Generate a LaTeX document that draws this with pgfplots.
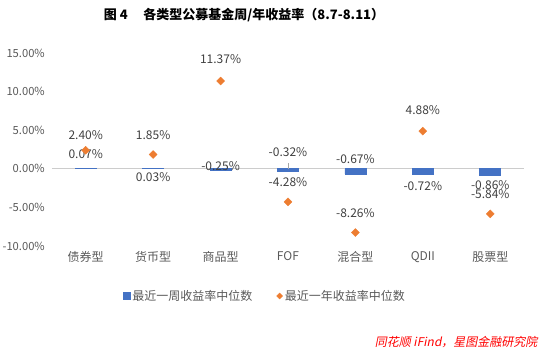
\documentclass[border=0pt]{standalone}
\usepackage{fontspec}
\setmainfont{Noto Sans CJK SC}
\newfontfamily\srcfont[FakeSlant=0.2]{Noto Sans CJK SC}
\usepackage{pgfplots}
\pgfplotsset{compat=1.18}
\definecolor{barblue}{HTML}{4472C4}
\definecolor{dorange}{HTML}{ED7D31}
\definecolor{ticktext}{HTML}{595959}
\definecolor{lbltext}{HTML}{404040}
\begin{document}
\begin{tikzpicture}[x=1pt,y=1pt]
\useasboundingbox (0,0) rectangle (550,351);
\clip (0,0) rectangle (550,351);
\begin{axis}[
  at={(52pt,105pt)}, anchor=south west,
  scale only axis, width=472pt, height=193pt,
  xmin=-0.5, xmax=6.5, ymin=-10, ymax=15,
  xtick={0,1,2,3,4,5,6},
  xticklabels={债券型,货币型,商品型,FOF,混合型,QDII,股票型},
  ytick={-10,-5,0,5,10,15},
  yticklabels={-10.00\%,-5.00\%,0.00\%,5.00\%,10.00\%,15.00\%},
  axis line style={draw=none},
  major tick style={draw=none},
  tick label style={font=\fontsize{12}{14}\selectfont, text=ticktext},
  xticklabel style={yshift=-2pt},
  yticklabel style={font=\fontsize{11.2}{13}\selectfont, anchor=east, inner sep=0pt, xshift=-7pt},
  extra y ticks={0}, extra y tick labels={},
  extra y tick style={grid=major, major grid style={draw=black!20, line width=0.8pt}},
  clip=false,
  legend style={at={(0.451,-0.259)}, anchor=center, draw=none, fill=none,
    legend columns=2, font=\fontsize{12}{14}\selectfont, text=ticktext,
    /tikz/every odd column/.append style={column sep=0pt},
    /tikz/every even column/.append style={column sep=22pt},
    legend cell align=left},
]
\addplot[ybar, bar width=21pt, fill=barblue, draw=barblue, line width=0.6pt,
  legend image code/.code={\fill[barblue] (2pt,-3.5pt) rectangle (9pt,3.5pt);}]
  coordinates {(0,0.07) (1,0.03) (2,-0.25) (3,-0.32) (4,-0.67) (5,-0.72) (6,-0.86)};
\addlegendentry{最近一周收益率中位数}
\addplot[only marks, mark=square*, mark options={rotate=45}, mark size=2.8pt, color=dorange,
  legend image code/.code={\fill[dorange] (6pt,-3pt) -- (9pt,0pt) -- (6pt,3pt) -- (3pt,0pt) -- cycle;}]
  coordinates {(0,2.40) (1,1.85) (2,11.37) (3,-4.28) (4,-8.26) (5,4.88) (6,-5.84)};
\addlegendentry{最近一年收益率中位数}
\draw[black!35] (axis cs:3,0) -- (axis cs:3,0.8);
\begin{scope}[every node/.style={font=\fontsize{12}{14}\selectfont, text=lbltext, inner sep=0pt}]
\node at (axis cs:0,4.4) {2.40\%};
\node at (axis cs:1,4.4) {1.85\%};
\node at (axis cs:2,14.25) {11.37\%};
\node at (axis cs:3,-1.7) {-4.28\%};
\node at (axis cs:4,-5.7) {-8.26\%};
\node at (axis cs:5,7.55) {4.88\%};
\node at (axis cs:6,-3.24) {-5.84\%};
\node at (axis cs:0,1.94) {0.07\%};
\node at (axis cs:1,-1.04) {0.03\%};
\node at (axis cs:2,0.39) {-0.25\%};
\node at (axis cs:3,2.2) {-0.32\%};
\node at (axis cs:4,1.3) {-0.67\%};
\node at (axis cs:5,-2.2) {-0.72\%};
\node at (axis cs:6,-2.07) {-0.86\%};
\end{scope}
\end{axis}
\node[font=\bfseries\fontsize{13}{15}\selectfont, text=black] at (244,336) {图 4\hspace{1.2em}各类型公募基金周/年收益率（8.7-8.11）};
\node[font=\srcfont\fontsize{12}{14}\selectfont, text=red, anchor=east] at (541,9) {同花顺 iFind，星图金融研究院};
\end{tikzpicture}
\end{document}
